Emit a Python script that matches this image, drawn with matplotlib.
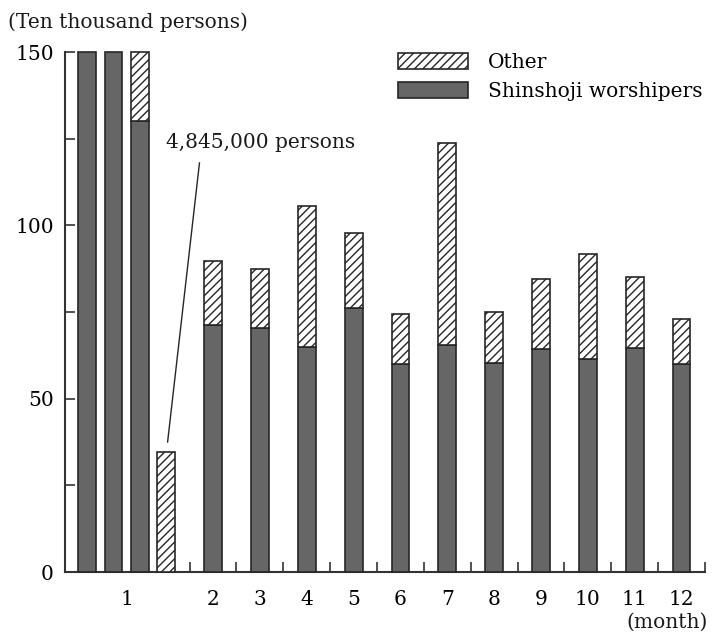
import matplotlib
matplotlib.use("Agg")
import matplotlib.pyplot as plt
from matplotlib.patches import Patch
import numpy as np

# Monthly visitors (ten thousand persons)
months = ["1", "2", "3", "4", "5", "6", "7", "8", "9", "10", "11", "12"]
shinshoji = [430, 71.2, 70.5, 65.0, 76.1, 59.9, 65.5, 60.2, 64.3, 61.4, 64.5, 60.0]
totals = [484.5, 89.8, 87.4, 105.5, 97.7, 74.5, 123.8, 74.9, 84.5, 91.8, 85.1, 73.0]
axis_cap = 150  # January is broken into columns of this height

plt.rcParams["font.family"] = ["DejaVu Serif"]
plt.rcParams["hatch.linewidth"] = 1.0

dark = "#666666"
edge = "#262626"
hatch = "////"
bar_w = 0.38
col_step = 0.563
txt_size = 14.5

fig = plt.figure(figsize=(7.13, 6.37), dpi=100)
ax = fig.add_axes([65 / 713, 65 / 637, (705 - 65) / 713, (572 - 52) / 637])

def draw_stack(x, dark_h, other_h):
    if dark_h > 0:
        ax.bar(x, dark_h, width=bar_w, color=dark, edgecolor=edge,
               linewidth=1.2, clip_on=False, zorder=3)
    if other_h > 0:
        ax.bar(x, other_h, bottom=dark_h, width=bar_w, color="white",
               edgecolor=edge, hatch=hatch, linewidth=1.2, clip_on=False, zorder=3)

# January: the total is cut into consecutive columns of axis_cap
jan_total, jan_dark = totals[0], shinshoji[0]
n_cols = int(np.ceil(jan_total / axis_cap))
jan_x = [1 - col_step * (n_cols - 1 - k) for k in range(n_cols)]
for k, x in enumerate(jan_x):
    lo = axis_cap * k
    d = min(max(jan_dark - lo, 0), axis_cap)
    t = min(max(jan_total - lo, 0), axis_cap)
    draw_stack(x, d, t - d)

# February to December
for i in range(1, 12):
    draw_stack(i + 1, shinshoji[i], totals[i] - shinshoji[i])

# Callout for the January total
last_top = jan_total - axis_cap * (n_cols - 1)
ax.plot([1.71, jan_x[-1] + 0.03], [118, last_top + 3], color=edge, lw=1.0, zorder=4)
ax.text(1.0, 123.8, f"{int(round(jan_total * 10000)):,} persons",
        fontsize=txt_size, va="center", ha="left", color="#1a1a1a")

ax.set_xlim(-1.16, 12.5)
ax.set_ylim(0, axis_cap)

for s in ["top", "right"]:
    ax.spines[s].set_visible(False)
for s in ["left", "bottom"]:
    ax.spines[s].set_linewidth(1.5)
    ax.spines[s].set_color("#333333")

# y ticks every 25, labelled every 50
ax.set_yticks(np.arange(0, 151, 25))
ax.set_yticklabels([str(v) if v % 50 == 0 else "" for v in range(0, 151, 25)])
ax.tick_params(axis="y", direction="in", length=7, width=1.2, color="#333333",
               labelsize=14.5, pad=8)

# month labels, separator ticks between months
label_x = [np.mean(jan_x)] + list(range(2, 13))
ax.set_xticks(label_x)
ax.set_xticklabels(months)
ax.tick_params(axis="x", which="major", length=0, labelsize=14.5, pad=13)
ax.set_xticks(np.arange(1.5, 12.6, 1.0), minor=True)
ax.tick_params(axis="x", which="minor", direction="in", length=7, width=1.2,
               color="#333333")

fig.text(8 / 713, 1 - 21.7 / 637, "(Ten thousand persons)", fontsize=txt_size,
         va="center", ha="left", color="#1a1a1a")
fig.text(708 / 713, 1 - 622 / 637, "(month)", fontsize=txt_size,
         va="center", ha="right", color="#1a1a1a")

handles = [Patch(facecolor="white", edgecolor=edge, hatch=hatch, linewidth=1.2),
           Patch(facecolor=dark, edgecolor=edge, linewidth=1.2)]
fig.legend(handles, ["Other", "Shinshoji worshipers"], loc="upper left",
           bbox_to_anchor=(398 / 713, 1 - 53 / 637), frameon=False,
           fontsize=txt_size, handlelength=3.48, handleheight=0.85,
           handletextpad=1.0, labelspacing=0.5, borderpad=0, borderaxespad=0)

fig.savefig("out.png", dpi=100)
